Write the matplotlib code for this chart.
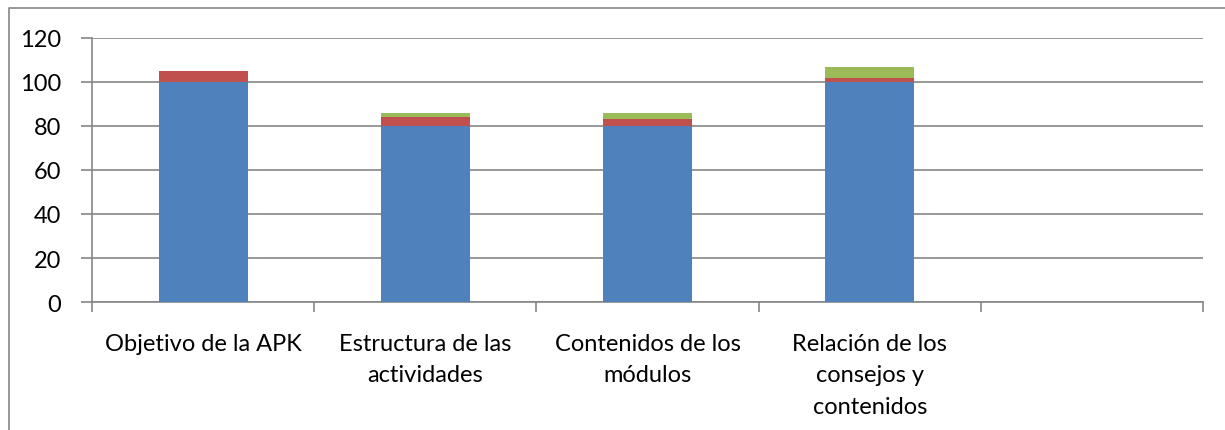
import numpy as np
import matplotlib
matplotlib.use('Agg')
import matplotlib.pyplot as plt
from matplotlib.lines import Line2D

categorias = ['Objetivo de la APK', 'Estructura de las\nactividades',
              'Contenidos de los\nmódulos', 'Relación de los\nconsejos y\ncontenidos', '']
azul = [100, 80, 80, 100, 0]
rojo = [5, 4, 3, 2, 0]
verde = [0, 2, 3, 5, 0]

plt.rcParams['font.family'] = ['Lato', 'DejaVu Sans']

fig = plt.figure(figsize=(12.25, 4.31), dpi=100)
ax = fig.add_axes([92 / 1225, 128 / 431, 1111 / 1225, 264 / 431])

# marco exterior (solo se ven el borde izquierdo y el superior)
fig.lines.append(Line2D([9 / 1225, 9 / 1225, 1.0], [0.0, 1 - 9 / 431, 1 - 9 / 431],
                        transform=fig.transFigure, color='#888888', linewidth=1.2))

x = np.arange(len(categorias))
ancho = 0.4
azul = np.array(azul)
rojo = np.array(rojo)
verde = np.array(verde)
ax.bar(x, azul, ancho, color='#4F81BD', zorder=3)
ax.bar(x, rojo, ancho, bottom=azul, color='#C0504D', zorder=3)
ax.bar(x, verde, ancho, bottom=azul + rojo, color='#9BBB59', zorder=3)

ax.set_xlim(-0.5, len(categorias) - 0.5)
ax.set_ylim(0, 120)
ax.set_yticks(range(0, 121, 20))
ax.yaxis.grid(True, color='#868686', linewidth=1.2, zorder=0)

ax.set_xticks(x)
ax.set_xticklabels(categorias, fontsize=17, linespacing=1.64, va='top')
ax.set_xticks(np.arange(-0.5, len(categorias), 1), minor=True)
ax.tick_params(axis='x', which='major', length=0, pad=22)
ax.tick_params(axis='x', which='minor', length=7, color='#868686', width=1.2)
ax.tick_params(axis='y', length=8, color='#868686', width=1.2, labelsize=17, pad=14)

for lado in ['top', 'right']:
    ax.spines[lado].set_visible(False)
for lado in ['left', 'bottom']:
    ax.spines[lado].set_color('#868686')
    ax.spines[lado].set_linewidth(1.2)

fig.savefig('out.png', dpi=100)
